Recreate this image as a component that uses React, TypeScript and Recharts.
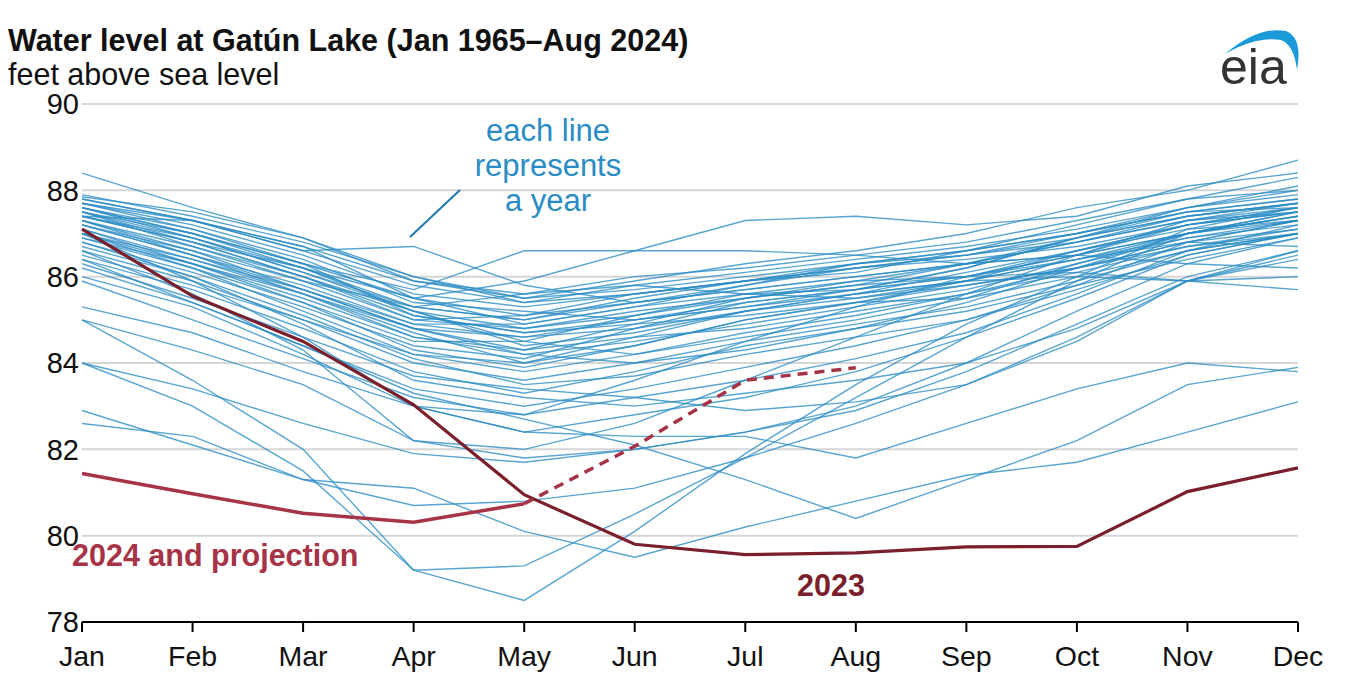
import React from 'react';
import { LineChart, Line, XAxis, YAxis, CartesianGrid } from 'recharts';

const months = ['Jan', 'Feb', 'Mar', 'Apr', 'May', 'Jun', 'Jul', 'Aug', 'Sep', 'Oct', 'Nov', 'Dec'];
const yTicks = [78, 80, 82, 84, 86, 88, 90];

const level2023 = [87.1, 85.55, 84.5, 83.03, 80.95, 79.8, 79.56, 79.6, 79.74, 79.75, 81.02, 81.57];
const level2024 = [81.44, 80.97, 80.52, 80.31, 80.74, null, null, null, null, null, null, null];
const projection2024 = [null, null, null, null, 80.74, 82.07, 83.6, 83.89, null, null, null, null];

// Historical years (1965–2022), one array per year, Jan..Dec
const pastYears: number[][] = [
  [87.6, 87.0, 86.2, 85.3, 85.0, 85.4, 85.7, 86.0, 86.3, 86.8, 87.4, 87.7],
  [87.5, 86.8, 86.0, 85.0, 84.8, 85.2, 85.5, 85.8, 86.0, 86.5, 87.2, 87.5],
  [87.3, 86.6, 85.7, 84.8, 84.6, 85.0, 85.3, 85.6, 85.9, 86.4, 87.0, 87.4],
  [87.7, 87.2, 86.5, 85.6, 85.3, 85.6, 85.9, 86.2, 86.5, 87.0, 87.5, 87.8],
  [87.4, 86.9, 86.1, 85.2, 84.4, 84.7, 85.2, 85.6, 86.1, 86.6, 87.1, 87.3],
  [87.0, 86.3, 85.5, 84.6, 84.2, 84.5, 84.9, 85.3, 85.7, 86.3, 86.9, 87.2],
  [87.2, 86.5, 85.8, 84.9, 84.9, 85.3, 85.6, 85.5, 85.8, 86.2, 86.8, 87.3],
  [87.8, 87.3, 86.6, 85.8, 85.4, 85.8, 86.1, 86.4, 86.7, 87.1, 87.6, 87.9],
  [87.1, 86.4, 85.6, 84.7, 84.0, 84.4, 85.0, 85.4, 85.9, 86.6, 87.2, 87.6],
  [86.8, 86.1, 85.3, 84.4, 84.1, 84.8, 85.4, 85.7, 86.0, 86.5, 87.0, 87.4],
  [87.5, 86.7, 85.9, 85.0, 85.1, 85.6, 85.9, 86.2, 86.4, 86.7, 87.2, 87.6],
  [87.3, 86.5, 85.6, 84.6, 84.3, 84.6, 84.8, 85.2, 85.6, 86.1, 86.7, 87.1],
  [87.6, 87.1, 86.4, 85.4, 85.2, 85.0, 85.3, 85.7, 86.2, 86.9, 87.4, 87.7],
  [86.9, 86.2, 85.4, 84.5, 84.5, 85.1, 85.6, 85.9, 86.3, 86.8, 87.3, 87.5],
  [87.4, 86.8, 86.0, 85.1, 84.7, 84.9, 85.1, 85.4, 85.5, 86.0, 86.6, 87.0],
  [87.0, 86.2, 85.2, 84.2, 83.8, 84.2, 84.7, 85.1, 85.6, 86.2, 86.8, 87.1],
  [86.6, 85.9, 85.0, 84.0, 83.6, 84.0, 84.5, 84.9, 85.3, 85.9, 86.6, 87.0],
  [87.2, 86.6, 85.9, 85.3, 85.6, 85.8, 85.6, 85.7, 86.0, 86.4, 86.9, 87.3],
  [87.5, 87.0, 86.3, 85.5, 84.9, 85.3, 85.8, 86.3, 86.6, 87.0, 87.5, 87.8],
  [86.4, 85.7, 84.8, 83.8, 83.3, 83.8, 84.4, 84.8, 85.2, 85.8, 86.4, 86.9],
  [87.3, 86.7, 86.0, 85.2, 84.5, 84.2, 84.6, 85.0, 85.5, 86.3, 87.0, 87.4],
  [87.9, 87.4, 86.8, 86.0, 85.5, 85.7, 86.0, 86.3, 86.5, 86.9, 87.4, 87.7],
  [87.1, 86.3, 85.4, 84.3, 83.9, 84.4, 85.0, 85.4, 85.8, 86.2, 86.7, 87.0],
  [86.7, 86.0, 85.1, 84.1, 83.5, 83.7, 84.2, 84.6, 85.0, 85.7, 86.5, 87.0],
  [87.6, 86.9, 86.1, 85.3, 85.0, 85.5, 85.9, 86.3, 86.6, 87.0, 87.6, 88.0],
  [87.0, 86.4, 85.7, 84.9, 84.6, 84.8, 85.2, 85.5, 85.9, 86.4, 86.8, 86.7],
  [87.4, 86.8, 86.2, 85.5, 85.1, 85.4, 85.7, 86.0, 86.3, 86.5, 86.3, 86.2],
  [86.5, 85.8, 85.0, 84.2, 84.0, 84.6, 85.2, 85.6, 85.9, 86.0, 85.9, 86.0],
  [87.2, 86.5, 85.7, 84.8, 84.3, 84.9, 85.5, 85.9, 86.0, 86.1, 85.9, 85.7],
  [87.8, 87.3, 86.7, 85.9, 85.6, 86.0, 86.2, 86.5, 86.8, 87.3, 87.8, 88.3],
  [87.5, 86.9, 86.2, 85.2, 84.8, 85.1, 85.5, 85.8, 86.3, 86.9, 87.5, 87.6],
  [87.7, 87.3, 86.7, 85.5, 85.9, 86.6, 87.3, 87.4, 87.2, 87.4, 88.1, 88.4],
  [87.4, 87.3, 86.6, 86.7, 85.8, 85.4, 85.8, 86.2, 86.5, 86.8, 87.3, 87.6],
  [87.6, 87.0, 86.3, 85.7, 86.6, 86.6, 86.6, 86.5, 86.3, 86.5, 87.0, 87.3],
  [88.4, 87.6, 86.9, 85.9, 85.5, 85.9, 86.3, 86.6, 87.0, 87.6, 88.0, 88.7],
  [87.85, 87.5, 86.9, 86.0, 85.4, 85.6, 85.9, 86.1, 86.6, 87.2, 87.8, 88.0],
  [86.4, 85.4, 84.4, 83.4, 83.0, 83.4, 83.9, 84.4, 85.0, 85.8, 86.8, 87.3],
  [85.9, 85.0, 84.1, 83.2, 82.8, 83.2, 83.6, 84.1, 84.7, 85.6, 86.6, 87.2],
  [85.3, 84.7, 83.8, 83.0, 82.4, 82.8, 83.2, 83.8, 84.6, 85.5, 86.5, 87.0],
  [85.0, 84.3, 83.5, 82.2, 81.8, 82.0, 82.4, 83.0, 84.0, 85.2, 86.3, 86.9],
  [84.0, 83.4, 82.6, 81.9, 81.7, 82.0, 82.4, 82.9, 83.8, 84.9, 86.0, 86.6],
  [86.0, 85.3, 84.2, 83.0, 82.4, 82.3, 82.3, 81.8, 82.6, 83.4, 84.0, 83.8],
  [86.2, 85.4, 84.4, 83.3, 82.7, 82.1, 81.3, 80.4, 81.3, 82.2, 83.5, 83.9],
  [82.9, 82.1, 81.3, 81.1, 80.1, 79.5, 80.2, 80.8, 81.4, 81.7, 82.4, 83.1],
  [82.6, 82.3, 81.3, 80.7, 80.8, 81.1, 81.8, 82.6, 83.5, 84.6, 85.9, 86.5],
  [85.0, 83.6, 82.0, 79.2, 79.3, 80.5, 81.8, 83.2, 84.6, 85.9, 87.0, 87.5],
  [84.0, 83.0, 81.5, 79.2, 78.5, 80.1, 81.9, 83.5, 84.9, 86.0, 87.1, 87.6],
  [86.6, 85.6, 84.3, 82.2, 82.0, 82.6, 83.6, 84.6, 85.6, 86.5, 87.3, 87.7],
  [87.0, 85.9, 84.6, 83.0, 82.8, 83.6, 84.5, 85.3, 86.0, 86.6, 87.2, 87.5],
  [86.8, 86.0, 84.9, 83.6, 83.2, 83.0, 83.3, 83.6, 84.0, 84.8, 85.9, 86.6],
  [86.3, 85.5, 84.6, 83.7, 83.4, 83.2, 82.9, 83.1, 83.5, 84.5, 85.9, 86.4],
  [87.7, 87.1, 86.3, 85.1, 84.7, 85.0, 85.4, 85.7, 86.2, 86.9, 87.6, 88.1],
  [86.9, 86.3, 85.6, 84.8, 84.2, 84.0, 84.3, 84.8, 85.4, 86.2, 87.0, 87.5],
];

const data = months.map((m, i) => {
  const row: Record<string, any> = {
    month: m,
    y2023: level2023[i],
    y2024: level2024[i],
    proj: projection2024[i],
  };
  pastYears.forEach((arr, k) => {
    row['p' + k] = arr[i];
  });
  return row;
});

const FONT = '"Liberation Sans", Arial, sans-serif';
const BLUE = '#2a8cc4';

export default function App() {
  return (
    <div style={{ position: 'absolute', left: 0, top: 0, width: 1361, height: 682, background: '#fff', fontFamily: FONT }}>
      <LineChart width={1361} height={682} data={data} margin={{ top: 104, right: 63, bottom: 20, left: 0 }}>
        <CartesianGrid vertical={false} stroke="#d6d6d6" strokeWidth={2} />
        <XAxis
          dataKey="month"
          axisLine={{ stroke: '#000', strokeWidth: 2 }}
          tickLine={{ stroke: '#000', strokeWidth: 2 }}
          tickSize={10}
          tickMargin={14}
          height={40}
          interval={0}
          padding={{ left: 0, right: 0 }}
          tick={{ fill: '#111', fontSize: 28.5, fontFamily: FONT }}
        />
        <YAxis
          domain={[78, 90]}
          ticks={yTicks}
          axisLine={false}
          tickLine={false}
          tickSize={0}
          tickMargin={3}
          width={82}
          tick={{ fill: '#111', fontSize: 29, fontFamily: FONT }}
        />
        {pastYears.map((_, k) => (
          <Line
            key={k}
            dataKey={'p' + k}
            type="linear"
            stroke={BLUE}
            strokeOpacity={0.78}
            strokeWidth={1.4}
            dot={false}
            activeDot={false}
            isAnimationActive={false}
          />
        ))}
        <Line dataKey="y2023" type="linear" stroke="#7a1f2b" strokeWidth={3.2} dot={false} activeDot={false} isAnimationActive={false} />
        <Line dataKey="proj" type="linear" stroke="#a63446" strokeWidth={3.5} strokeDasharray="10 7" dot={false} activeDot={false} isAnimationActive={false} connectNulls={false} />
        <Line dataKey="y2024" type="linear" stroke="#a63446" strokeWidth={3.5} dot={false} activeDot={false} isAnimationActive={false} connectNulls={false} />
      </LineChart>
      <svg width={1361} height={682} style={{ position: 'absolute', left: 0, top: 0, pointerEvents: 'none' }}>
        <text x={8} y={51} fontSize={30.5} fontWeight="bold" fill="#111" fontFamily={FONT}>Water level at Gatún Lake (Jan 1965–Aug 2024)</text>
        <text x={8} y={85} fontSize={30.5} fill="#111" fontFamily={FONT}>feet above sea level</text>
        <g fill={BLUE} fontSize={31} fontFamily={FONT} textAnchor="middle">
          <text x={548} y={141}>each line</text>
          <text x={548} y={176}>represents</text>
          <text x={548} y={211}>a year</text>
        </g>
        <line x1={410} y1={237} x2={460} y2={190} stroke="#1a7ab0" strokeWidth={2} />
        <text x={72} y={566} fontSize={30.5} fontWeight="bold" fill="#a63446" fontFamily={FONT}>2024 and projection</text>
        <text x={797} y={596} fontSize={30.5} fontWeight="bold" fill="#7a1f2b" fontFamily={FONT}>2023</text>
        <path d="M1225,54 Q1258,26 1286,31 Q1303,38 1297,70 Q1294,45 1281,40 Q1256,36 1225,54 Z" fill="#1a9ad8" />
        <text x={1220} y={84} fontSize={50} fill="#333" fontFamily={FONT}>eia</text>
      </svg>
    </div>
  );
}
